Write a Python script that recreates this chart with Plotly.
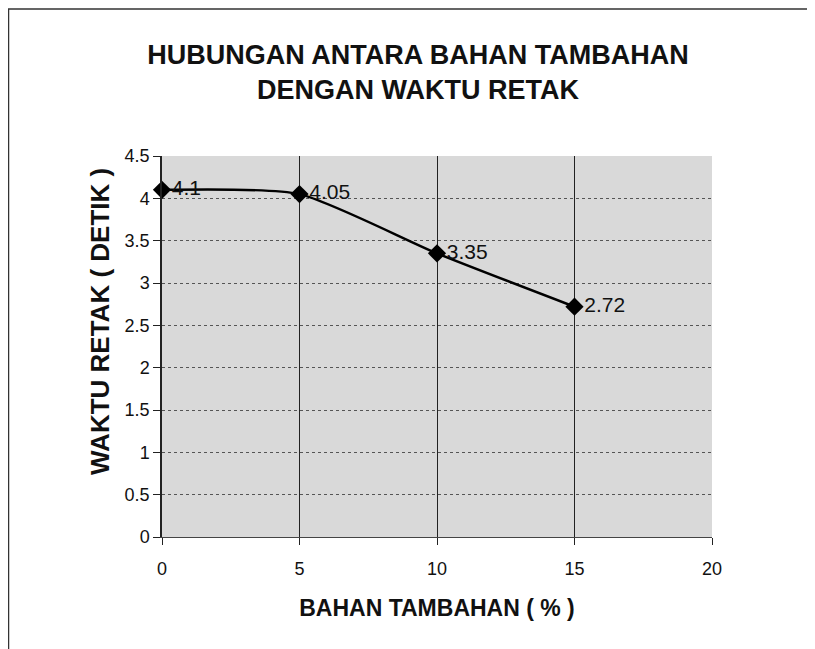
import plotly.graph_objects as go

# data
bahan_tambahan = [0, 5, 10, 15]
waktu_retak = [4.1, 4.05, 3.35, 2.72]
labels = ["4.1", "4.05", "3.35", "2.72"]

# figure size and margins (the page adds an 8px body margin)
W, H = 815, 649
L, R, T, B = 154, 111, 148, 120
pw = W - L - R
ph = H - T - B

FONT = 'Arial, Liberation Sans'

fig = go.Figure()

fig.add_trace(go.Scatter(
    x=bahan_tambahan,
    y=waktu_retak,
    mode='lines+markers+text',
    text=labels,
    textposition='middle right',
    textfont=dict(family=FONT, size=21, color='#111'),
    line=dict(color='black', width=2.5, shape='spline', smoothing=0.6),
    marker=dict(symbol='diamond', size=14, color='black'),
    showlegend=False,
    cliponaxis=False,
))

# outer chart frame from the scan
fig.add_shape(
    type='rect', xref='paper', yref='paper',
    x0=(0.5 - L) / pw, x1=(804 - L) / pw,
    y0=1 + (T - 700) / ph, y1=1 + (T - 1) / ph,
    line=dict(color='#333', width=1.5), layer='below',
)

# y axis title sits a little above the plot centre in the original
fig.add_annotation(
    text='<b>WAKTU RETAK ( DETIK )</b>', textangle=-90,
    xref='paper', yref='paper', x=(92 - L) / pw, y=1 + (T - 314) / ph,
    xanchor='center', yanchor='middle', showarrow=False,
    font=dict(family=FONT, size=26, color='#111'),
)

fig.update_layout(
    width=W, height=H,
    margin=dict(l=L, r=R, t=T, b=B),
    paper_bgcolor='white',
    plot_bgcolor='#d9d9d9',
    title=dict(
        text='<b>HUBUNGAN ANTARA BAHAN TAMBAHAN<br>DENGAN WAKTU RETAK</b>',
        x=410 / W, xanchor='center', y=1 - 56 / H, yanchor='middle',
        font=dict(family=FONT, size=27, color='#111'),
    ),
    font=dict(family=FONT, size=17, color='#111'),
)

fig.update_xaxes(
    range=[0, 20], tickvals=[0, 5, 10, 15, 20], ticks='outside', ticklen=7,
    tickcolor='#222', showline=True, linecolor='#444', linewidth=1,
    showgrid=True, gridcolor='#222', gridwidth=1.2, zeroline=False,
    ticklabelstandoff=8,
    title=dict(text='<b>BAHAN TAMBAHAN ( % )</b>', standoff=22,
               font=dict(size=23)),
    tickfont=dict(size=18),
)
fig.update_yaxes(
    range=[0, 4.5], dtick=0.5, ticks='outside', ticklen=7, tickcolor='#222',
    showline=True, linecolor='#222', linewidth=1.5,
    showgrid=True, gridcolor='#555', gridwidth=1, griddash='dot',
    zeroline=False, tickformat='~g',
    tickfont=dict(size=18),
)

fig.write_html("out.html")
